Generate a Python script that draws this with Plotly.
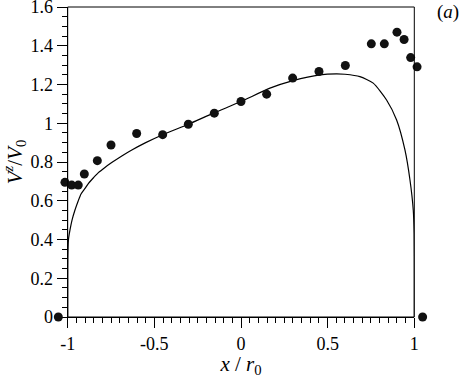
import plotly.graph_objects as go

# measured points (dots)
exp_x = [-1.054, -1.016, -0.977, -0.939, -0.904, -0.829, -0.75, -0.602, -0.452, -0.304,
         -0.154, 0.0, 0.148, 0.298, 0.45, 0.602, 0.752, 0.827, 0.90, 0.941, 0.979, 1.016, 1.048]
exp_y = [0.0, 0.695, 0.681, 0.681, 0.738, 0.807, 0.888, 0.947, 0.941, 0.995,
         1.052, 1.112, 1.15, 1.233, 1.267, 1.298, 1.41, 1.41, 1.47, 1.432, 1.339, 1.291, 0.0]

# theoretical curve (solid line)
curve_x = [-1.0, -1.0, -0.9995, -0.996, -0.987, -0.975, -0.958, -0.939, -0.923, -0.90, -0.88,
           -0.85, -0.823, -0.785, -0.746, -0.69, -0.63, -0.55, -0.452, -0.303, -0.159, 0.0,
           0.167, 0.30, 0.456, 0.55, 0.60, 0.686, 0.763, 0.84, 0.898, 0.946, 0.975, 0.994,
           0.999, 1.0, 1.0]
curve_y = [0.0, 0.2, 0.3, 0.397, 0.448, 0.5, 0.552, 0.6, 0.635, 0.664, 0.69,
           0.72, 0.745, 0.772, 0.797, 0.83, 0.862, 0.90, 0.941, 0.995, 1.052, 1.112,
           1.181, 1.22, 1.25, 1.255, 1.253, 1.241, 1.207, 1.12, 1.017, 0.862, 0.707, 0.552,
           0.43, 0.2, 0.0]

x_tickvals = [-1, -0.5, 0, 0.5, 1]
x_ticktext = ["-1", "-0.5", "0", "0.5", "1"]
y_tickvals = [0, 0.2, 0.4, 0.6, 0.8, 1.0, 1.2, 1.4, 1.6]
y_ticktext = ["0", "0.2", "0.4", "0.6", "0.8", "1", "1.2", "1.4", "1.6"]

FONT = "Liberation Serif, Times New Roman, serif"

# layout geometry (pixels)
W, H = 461, 378
ML, MR, MT, MB = 48, 28, 7, 61
PLOT_L, PLOT_R = 67.7, 414.3
area_w = W - ML - MR
d0 = (PLOT_L - ML) / area_w
d1 = (PLOT_R - ML) / area_w
XMIN, XMAX = -1.0, 1.0
per = (XMAX - XMIN) / (d1 - d0)
x2_range = [XMIN - d0 * per, XMAX + (1 - d1) * per]

fig = go.Figure()
fig.add_trace(go.Scatter(x=curve_x, y=curve_y, mode="lines",
                         line=dict(color="black", width=1.2, shape="spline", smoothing=0.6),
                         showlegend=False))
fig.add_trace(go.Scatter(x=exp_x, y=exp_y, mode="markers", cliponaxis=False,
                         xaxis="x2", yaxis="y",
                         marker=dict(color="#111111", size=9), showlegend=False))

axis_common = dict(showgrid=False, zeroline=False, showline=True, linecolor="black",
                   linewidth=1, mirror=False, ticks="outside", ticklen=10, tickwidth=1,
                   tickcolor="black", automargin=False, ticklabeloverflow="allow",
                   tickfont=dict(family=FONT, size=18, color="black"))

fig.update_layout(
    xaxis=dict(domain=[d0, d1], range=[XMIN, XMAX], tickvals=x_tickvals, ticktext=x_ticktext,
               minor=dict(dtick=0.05, tick0=0, ticks="outside", ticklen=5, tickcolor="black"),
               title=dict(text="<i>x</i> / <i>r</i><sub>0</sub>",
                          font=dict(family=FONT, size=21, color="black"), standoff=6),
               **axis_common),
    yaxis=dict(range=[0, 1.6], tickvals=y_tickvals, ticktext=y_ticktext, anchor="x",
               minor=dict(dtick=0.05, tick0=0, ticks="outside", ticklen=5, tickcolor="black"),
               title=dict(text="<i>V</i><sup><i>z</i></sup>/<i>V</i><sub>0</sub>",
                          font=dict(family=FONT, size=21, color="black"), standoff=6),
               **axis_common),
    xaxis2=dict(domain=[0, 1], range=x2_range, visible=False, anchor="y",
                showgrid=False, zeroline=False, fixedrange=True),
)

# frame: top and right borders
fig.add_shape(type="rect", xref="x domain", yref="y domain", x0=0, x1=1, y0=0, y1=1,
              line=dict(color="black", width=1), fillcolor="rgba(0,0,0,0)", layer="above")

fig.add_annotation(text="(<i>a</i>)", xref="paper", yref="paper", x=1.039, y=0.985,
                   xanchor="center", yanchor="middle", showarrow=False,
                   font=dict(family=FONT, size=19, color="black"))

fig.update_layout(width=W, height=H, margin=dict(l=ML, r=MR, t=MT, b=MB, autoexpand=False),
                  plot_bgcolor="rgba(0,0,0,0)", paper_bgcolor="white")

fig.write_html("out.html", config={"displayModeBar": False},
               post_script="document.body.style.margin='0';")
